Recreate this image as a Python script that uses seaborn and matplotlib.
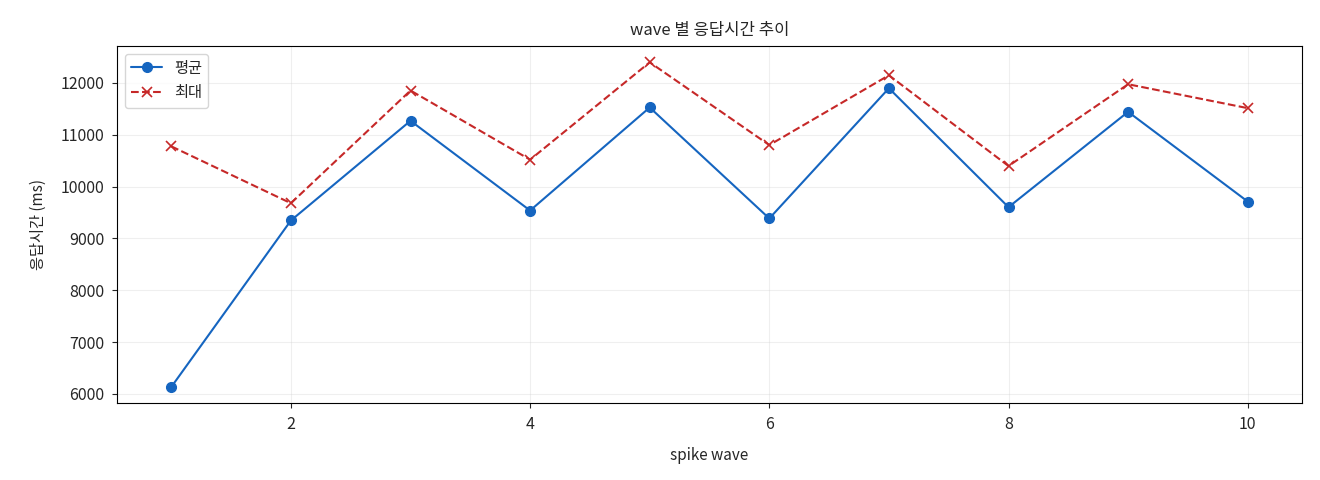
import numpy as np
import pandas as pd
import seaborn as sns
import matplotlib as mpl
mpl.use('Agg')
import matplotlib.pyplot as plt

# wave 별 응답시간 (ms)
waves = [1, 2, 3, 4, 5, 6, 7, 8, 9, 10]
avg_ms = [6135, 9346, 11269, 9538, 11526, 9385, 11897, 9603, 11442, 9712]
max_ms = [10776, 9679, 11853, 10519, 12397, 10801, 12147, 10397, 11974, 11513]

sns.set_style('ticks')
plt.rcParams['font.family'] = ['Noto Sans CJK KR', 'DejaVu Sans']
plt.rcParams['axes.unicode_minus'] = False

df = pd.DataFrame({'wave': waves, '평균': avg_ms, '최대': max_ms})

blue = '#1565c0'
red = '#c62828'

fig, ax = plt.subplots(figsize=(13.2, 4.8), dpi=100)
sns.lineplot(data=df, x='wave', y='평균', ax=ax, color=blue,
             marker='o', markersize=7, markeredgewidth=1, markeredgecolor=blue,
             linewidth=1.5, label='평균')
sns.lineplot(data=df, x='wave', y='최대', ax=ax, color=red,
             marker='x', markersize=7, markeredgewidth=1.2, markeredgecolor=red,
             linestyle='--', linewidth=1.5, label='최대')

ax.set_title('wave 별 응답시간 추이', fontsize=12, pad=8)
ax.set_xlabel('spike wave', fontsize=11, labelpad=10)
ax.set_ylabel('응답시간 (ms)', fontsize=11, labelpad=10)
ax.tick_params(labelsize=11.5, pad=6)
ax.grid(True, alpha=0.3)
ax.legend(loc='upper left', fontsize=11)
for s in ax.spines.values():
    s.set_visible(True)
    s.set_color('black')

fig.subplots_adjust(left=0.089, right=0.986, top=0.904, bottom=0.16)
plt.savefig('out.png', dpi=100)
